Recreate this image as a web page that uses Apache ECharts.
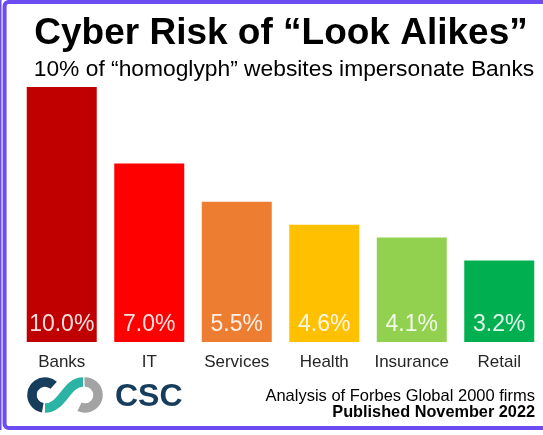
<!DOCTYPE html>
<html>
<head>
<meta charset="utf-8">
<script src="https://cdn.jsdelivr.net/npm/echarts@6/dist/echarts.min.js"></script>
<style>
html,body{margin:0;padding:0;background:#fff;}
#c{width:543px;height:435px;}
</style>
</head>
<body>
<div id="c"></div>
<script>
var categories = ['Banks', 'IT', 'Services', 'Health', 'Insurance', 'Retail'];
var values = [10.0, 7.0, 5.5, 4.6, 4.1, 3.2];
var barColors = ['#C00000', '#FF0000', '#ED7D31', '#FFC000', '#92D050', '#00B050'];
var titleText = 'Cyber Risk of \u201CLook Alikes\u201D';
var subtitleText = '10% of \u201Chomoglyph\u201D websites impersonate Banks';
var footer1 = 'Analysis of Forbes Global 2000 firms';
var footer2 = 'Published November 2022';

var FONT = '"Liberation Sans", Arial, Helvetica, sans-serif';
var purple = '#6A4CF2';
var navy = '#173D5C';
var teal = '#2BB3A6';
var gray = '#A3A3A3';

var chart = echarts.init(document.getElementById('c'), null, {renderer: 'canvas'});

function ringArc(cx, cy, a0, a1, color) {
  return {
    type: 'arc',
    shape: {cx: cx, cy: cy, r: 13, startAngle: a0 * Math.PI / 180, endAngle: a1 * Math.PI / 180, clockwise: true},
    style: {stroke: color, lineWidth: 9.5, fill: null, lineCap: 'butt'},
    z: 10
  };
}

var option = {
  backgroundColor: '#fff',
  animation: false,
  grid: {left: 18, right: 0, top: 87, bottom: 93, containLabel: false},
  xAxis: {
    type: 'category',
    data: categories,
    axisLine: {show: false},
    axisTick: {show: false},
    axisLabel: {color: '#262626', fontSize: 17, fontFamily: FONT, margin: 12, interval: 0}
  },
  yAxis: {
    type: 'value',
    min: 0,
    max: 10,
    show: false,
    splitLine: {show: false}
  },
  series: [{
    type: 'bar',
    data: values.map(function (v, i) { return {value: v, itemStyle: {color: barColors[i]}}; }),
    barWidth: 70,
    label: {
      show: true,
      position: 'insideBottom',
      distance: 6,
      color: 'rgba(255,255,255,0.88)',
      fontSize: 23,
      fontFamily: FONT,
      formatter: function (p) { return p.value.toFixed(1) + '%'; }
    }
  }],
  graphic: [
    {type: 'rect', shape: {x: 0, y: 0, width: 1.5, height: 430}, style: {fill: purple}, z: 20},
    {type: 'rect', shape: {x: 4.6, y: 2, width: 700, height: 426, r: 4}, style: {fill: null, stroke: purple, lineWidth: 4}, z: 20},
    {type: 'text', x: 281, y: 33.8, style: {text: titleText, font: 'bold 37px ' + FONT, fill: '#000', textAlign: 'center', textVerticalAlign: 'middle'}},
    {type: 'text', x: 284, y: 69.7, style: {text: subtitleText, font: '22.8px ' + FONT, fill: '#000', textAlign: 'center', textVerticalAlign: 'middle'}},
    {type: 'text', x: 535, y: 396.5, style: {text: footer1, font: '16.5px ' + FONT, fill: '#000', textAlign: 'right', textVerticalAlign: 'middle'}},
    {type: 'text', x: 535, y: 412.5, style: {text: footer2, font: 'bold 16.3px ' + FONT, fill: '#000', textAlign: 'right', textVerticalAlign: 'middle'}},
    ringArc(45, 395, 100, 312, navy),
    ringArc(85, 395, 268, 475, gray),
    {type: 'bezierCurve', shape: {x1: 45, y1: 408, cpx1: 63, cpy1: 408, cpx2: 66, cpy2: 382, x2: 83, y2: 382},
      style: {stroke: teal, lineWidth: 9.5, fill: null, lineCap: 'butt'}, z: 11},
    {type: 'text', x: 115, y: 397.5, style: {text: 'CSC', font: 'bold 32px ' + FONT, fill: navy, textAlign: 'left', textVerticalAlign: 'middle'}}
  ]
};
chart.setOption(option);
</script>
</body>
</html>
